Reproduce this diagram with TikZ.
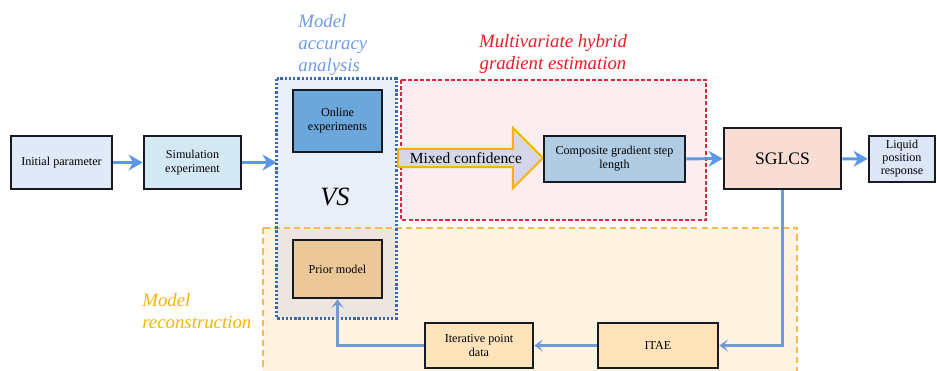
\documentclass[tikz,border=0pt]{standalone}
\usepackage{fontspec}
\setmainfont{Liberation Serif}
\usetikzlibrary{arrows.meta,shapes.arrows}

\definecolor{boxedge}{HTML}{171A22}
\definecolor{flowblue}{HTML}{5B98E6}
\definecolor{backblue}{HTML}{7099D6}
\definecolor{initfill}{HTML}{DFE9F8}
\definecolor{simfill}{HTML}{D5E9F5}
\definecolor{onlinefill}{HTML}{6BA7DB}
\definecolor{compfill}{HTML}{AFCCE3}
\definecolor{sglcsfill}{HTML}{F9DCD3}
\definecolor{liquidfill}{HTML}{DCE6F6}
\definecolor{priorfill}{HTML}{EBC897}
\definecolor{itaefill}{HTML}{FFE3BB}
\definecolor{accfill}{HTML}{E8EFF8}
\definecolor{accedge}{HTML}{3A68AE}
\definecolor{acclabel}{HTML}{6E9CE6}
\definecolor{gradfill}{HTML}{FBEDF0}
\definecolor{gradedge}{HTML}{E0263F}
\definecolor{gradlabel}{HTML}{EE1C25}
\definecolor{reconfill}{HTML}{FEF2E1}
\definecolor{reconedge}{HTML}{F8BA4F}
\definecolor{reconlabel}{HTML}{F7B500}
\definecolor{overlapfill}{HTML}{ECE5E0}
\definecolor{mixarrow}{HTML}{D6D6EA}
\definecolor{mixedge}{HTML}{F5B301}

\begin{document}
\begin{tikzpicture}[x=0.02cm, y=-0.02cm,
  blk/.style={draw=boxedge, line width=1.5pt, align=center, inner sep=1pt, font=\fontsize{6.9}{8}\selectfont},
  flow/.style={draw=flowblue, line width=1.7pt, -{Stealth[length=8pt,width=9pt,inset=2.5pt]}},
  back/.style={draw=backblue, line width=1.3pt, -{Stealth[length=5pt,width=7pt,inset=2.5pt]}},
  tag/.style={font=\fontsize{10.7}{12.8}\selectfont\itshape, inner sep=0pt}]
\useasboundingbox (0,0) rectangle (937,370);

% the three regions
\node[fill=accfill, inner sep=0pt, minimum width=2.38cm, minimum height=4.78cm] (acc) at (336.5,198.5) {};
\fill[reconfill] (263,228) rectangle (797,380); \fill[overlapfill] (277,228) rectangle (396,318);
\draw[gradedge, fill=gradfill, line width=0.9pt, dash pattern=on 2.3pt off 1.2pt] (401,80) rectangle (706,220);
\draw[reconedge, line width=1.1pt, dash pattern=on 3.5pt off 2.3pt] (263,228) rectangle (797,380);
\draw[accedge, line width=1.4pt, dash pattern=on 1.3pt off 1.1pt] (acc.north west) rectangle (acc.south east);

\node[tag, text=acclabel, align=left, anchor=west] (acctag) at (298,45) {Model\\accuracy\\analysis};
\node[tag, text=gradlabel, align=center] (gradtag) at (553,54) {Multivariate hybrid\\gradient estimation};
\node[tag, text=reconlabel, align=left, anchor=west] (recontag) at (142,311) {Model\\reconstruction};
\node[font=\fontsize{15}{15}\selectfont\itshape] (vs) at (335,197) {VS};

% blocks
\node[blk, fill=initfill, minimum width=2.02cm, minimum height=1.06cm] (init) at (61.5,162.5) {Initial parameter};
\node[blk, fill=simfill, minimum width=1.94cm, minimum height=1.06cm] (sim) at (192.5,162.5) {Simulation\\experiment};
\node[blk, fill=onlinefill, minimum width=1.78cm, minimum height=1.24cm] (online) at (337.5,121) {Online\\experiments};
\node[blk, fill=priorfill, minimum width=1.78cm, minimum height=1.16cm] (prior) at (337.5,269) {Prior model};
\node[single arrow, draw=mixedge, fill=mixarrow, line width=1.1pt, minimum width=1.2cm, minimum height=2.9cm,
  single arrow head extend=0.3cm, single arrow tip angle=90, inner sep=0pt, font=\fontsize{8.8}{10}\selectfont, anchor=tail] (mix) at (397,158) {Mixed confidence};
\node[blk, fill=compfill, minimum width=2.82cm, minimum height=0.92cm] (comp) at (614.5,159) {Composite gradient step\\length};
\node[blk, fill=sglcsfill, minimum width=2.34cm, minimum height=1.22cm, font=\fontsize{10}{12}\selectfont] (sglcs) at (782.5,158.5) {SGLCS};
\node[blk, fill=liquidfill, minimum width=1.32cm, minimum height=0.92cm, font=\fontsize{6.9}{7.4}\selectfont] (liquid) at (902,159) {Liquid\\position\\response};
\node[blk, fill=itaefill, minimum width=2.16cm, minimum height=0.9cm] (iter) at (479,345.5) {Iterative point\\data};
\node[blk, fill=itaefill, minimum width=2.4cm, minimum height=0.9cm] (itae) at (658,345.5) {ITAE};

% connectors
\draw[flow] (init) -- (sim); \draw[flow] (sim) -- (sim -| acc.west);
\draw[flow] (comp) -- (sglcs); \draw[flow] (sglcs) -- (liquid);
\draw[back] (sglcs.south) |- (itae.east); \draw[back] (itae) -- (iter); \draw[back] (iter.west) -| (prior.south);
\end{tikzpicture}
\end{document}
